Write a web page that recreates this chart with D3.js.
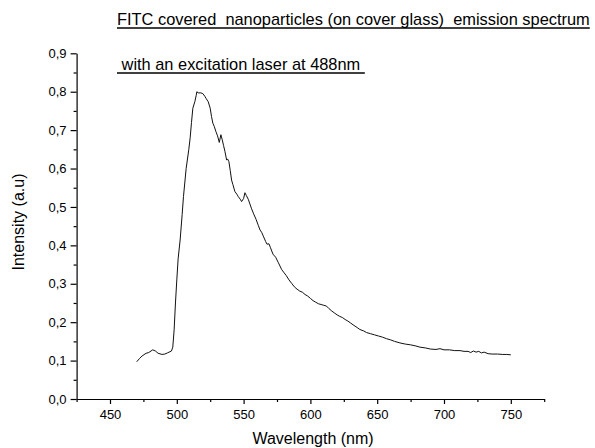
<!DOCTYPE html>
<html><head><meta charset="utf-8">
<script src="https://cdn.jsdelivr.net/npm/d3@7"></script>
<style>
html,body{margin:0;padding:0;background:#fff;}
svg{display:block;font-family:"Liberation Sans",Arial,sans-serif;}
</style></head>
<body>
<svg id="chart" width="595" height="448"></svg>
<script>
const titleLines = ["FITC covered  nanoparticles (on cover glass)  emission spectrum", " with an excitation laser at 488nm "];
const xLabel = "Wavelength (nm)";
const yLabel = "Intensity (a.u)";
const xTicks = [450, 500, 550, 600, 650, 700, 750];
const xMinorTicks = [425, 475, 525, 575, 625, 675, 725, 775];
const yTicks = [0, 0.1, 0.2, 0.3, 0.4, 0.5, 0.6, 0.7, 0.8, 0.9];
const yMinorTicks = [0.05, 0.15, 0.25, 0.35, 0.45, 0.55, 0.65, 0.75, 0.85];
const wavelengths = [470,472,474,477,479,482,484,486,489,491,493,496,497,498,499,500,501,502.5,504,505,507,509,510,511,512,513.5,514.5,515,516,518,519.5,521,522,523.5,525,526,527,528,529.3,530.5,531.8,533,534,535,536,537.3,538,539,540,541,542,543.5,545,546,547.5,548.5,550,551,552,553.5,555,556,557.5,559.3,561,562.3,563.5,565,566.5,567.5,569,570,572,574,576,578.5,580,582,584,586,588,590,592,594,596,598,600,602,604,606,608,610,612,614,616,618,620,622,624,626,628,630,632,635,637,640,642,645,648,651,654,657,660,663,667,671,675,679,682,686,690,694,697,700,704,708,712,715,718,720,722,724,726,728,730,733,736,740,744,747,750];
const intensities = [0.097,0.105,0.112,0.119,0.121,0.128,0.125,0.119,0.116,0.117,0.120,0.125,0.135,0.180,0.250,0.310,0.365,0.414,0.480,0.527,0.600,0.650,0.680,0.720,0.757,0.774,0.790,0.800,0.797,0.797,0.795,0.788,0.782,0.774,0.757,0.735,0.718,0.710,0.696,0.685,0.668,0.688,0.675,0.660,0.645,0.622,0.625,0.618,0.595,0.570,0.558,0.540,0.533,0.527,0.520,0.514,0.522,0.537,0.530,0.520,0.505,0.495,0.482,0.468,0.452,0.440,0.434,0.422,0.410,0.403,0.404,0.395,0.377,0.369,0.355,0.337,0.330,0.321,0.310,0.301,0.292,0.286,0.281,0.278,0.272,0.268,0.262,0.256,0.252,0.248,0.246,0.244,0.242,0.235,0.229,0.224,0.219,0.215,0.212,0.207,0.203,0.198,0.193,0.186,0.181,0.177,0.173,0.170,0.167,0.164,0.161,0.157,0.154,0.150,0.146,0.143,0.141,0.138,0.135,0.133,0.130,0.129,0.131,0.128,0.128,0.126,0.126,0.124,0.124,0.121,0.125,0.122,0.124,0.120,0.122,0.118,0.117,0.117,0.116,0.116,0.115];

const svg = d3.select("#chart");
const x = d3.scaleLinear().domain([425, 775]).range([76.6, 544.2]);
const y = d3.scaleLinear().domain([0, 0.9]).range([399, 53.3]);
const fmt = d => d3.format(".1f")(d).replace(".", ",");

// X axis
const gx = svg.append("g").attr("transform", `translate(0,${y(0)})`);
gx.call(d3.axisBottom(x).tickValues(xTicks).tickSize(5).tickSizeOuter(0).tickPadding(6));
gx.append("g").call(d3.axisBottom(x).tickValues(xMinorTicks).tickSize(3).tickSizeOuter(0).tickFormat(""))
  .select(".domain").remove();
// Y axis
const gy = svg.append("g").attr("transform", `translate(${x(425)},0)`);
gy.call(d3.axisLeft(y).tickValues(yTicks).tickSize(6).tickSizeOuter(0).tickPadding(4).tickFormat(fmt));
gy.append("g").call(d3.axisLeft(y).tickValues(yMinorTicks).tickSize(3).tickSizeOuter(0).tickFormat(""))
  .select(".domain").remove();

svg.selectAll(".tick text").attr("font-size", 13).attr("fill", "#000")
  .attr("font-family", '"Liberation Sans",Arial,sans-serif');
svg.selectAll(".domain, .tick line").attr("stroke", "#000").attr("stroke-width", 1.2);

// Curve
const line = d3.line().x((d, i) => x(wavelengths[i])).y(d => y(d));
svg.append("path").datum(intensities).attr("d", line)
  .attr("fill", "none").attr("stroke", "#111").attr("stroke-width", 1);

// Axis titles
svg.append("text").attr("x", 313).attr("y", 444).attr("text-anchor", "middle")
  .attr("font-size", 16).text(xLabel);
svg.append("text").attr("transform", "translate(24,222) rotate(-90)").attr("text-anchor", "middle")
  .attr("font-size", 16).text(yLabel);

// Title lines with underline
const titleY = [25, 70];
titleLines.forEach((t, i) => {
  const tx = svg.append("text").attr("x", 117).attr("y", titleY[i])
    .attr("font-size", 16.4).style("white-space", "pre").text(t);
  const w = tx.node().getComputedTextLength();
  svg.append("line").attr("x1", 117).attr("x2", 117 + w)
    .attr("y1", titleY[i] + 3).attr("y2", titleY[i] + 3)
    .attr("stroke", "#000").attr("stroke-width", 1.5);
});
</script>
</body></html>
